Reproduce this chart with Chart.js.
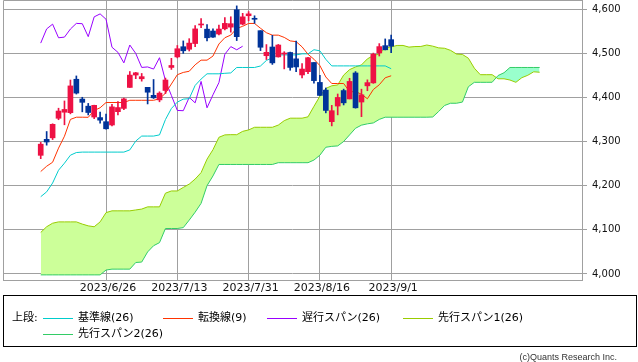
<!DOCTYPE html>
<html lang="ja">
<head>
<meta charset="utf-8">
<title>一目均衡表</title>
<script src="https://cdn.jsdelivr.net/npm/chart.js@4.4.1/dist/chart.umd.min.js"></script>
<style>
body {
    margin: 0;
    width: 638px;
    height: 362px;
    background: #fff;
    position: relative;
    overflow: hidden;
    font-family: "DejaVu Sans", "Noto Sans CJK JP", sans-serif;
}
#chartBox {
    position: absolute;
    left: 0;
    top: 0;
    width: 638px;
    height: 296px;
}
#legend {
    position: absolute;
    left: 3px;
    top: 295px;
    width: 632px;
    height: 50px;
    border: 1px solid #000;
    font-size: 11px;
    color: #000;
}
.lg-item {
    position: absolute;
    height: 14px;
    line-height: 14px;
    white-space: nowrap;
}
.lg-line {
    display: inline-block;
    width: 30px;
    height: 1px;
    vertical-align: middle;
    margin-right: 5px;
}
#copy {
    position: absolute;
    right: 21px;
    top: 351px;
    font-family: "Liberation Sans", sans-serif;
    font-size: 9px;
    line-height: 12px;
    color: #333;
}
</style>
</head>
<body>

<div id="chartBox"><canvas id="ichimokuChart"></canvas></div>
<div id="legend"></div>
<div id="copy">(c)Quants Research Inc.</div>

<script>

// trading days shown as candles
const dates = [
"2023/6/8","2023/6/9","2023/6/12","2023/6/13","2023/6/14","2023/6/15","2023/6/16","2023/6/20","2023/6/21","2023/6/22",
"2023/6/23","2023/6/26","2023/6/27","2023/6/28","2023/6/29","2023/6/30","2023/7/3","2023/7/5","2023/7/6","2023/7/7",
"2023/7/10","2023/7/11","2023/7/12","2023/7/13","2023/7/14","2023/7/17","2023/7/18","2023/7/19","2023/7/20","2023/7/21",
"2023/7/24","2023/7/25","2023/7/26","2023/7/27","2023/7/28","2023/7/31","2023/8/1","2023/8/2","2023/8/3","2023/8/4",
"2023/8/7","2023/8/8","2023/8/9","2023/8/10","2023/8/11","2023/8/14","2023/8/15","2023/8/16","2023/8/17","2023/8/18",
"2023/8/21","2023/8/22","2023/8/23","2023/8/24","2023/8/25","2023/8/28","2023/8/29","2023/8/30","2023/8/31","2023/9/1"
];

const openPrices = [
4268.69,4304.88,4308.32,4352.61,4366.29,4365.33,4440.95,4396.11,4380.01,4355.40,
4354.17,4344.84,4337.36,4367.48,4374.94,4422.44,4450.48,4442.04,4422.62,4404.54,
4394.23,4415.55,4467.69,4491.50,4514.61,4508.86,4521.78,4563.87,4554.38,4550.16,
4543.39,4555.19,4558.96,4598.26,4565.75,4584.82,4578.83,4550.93,4494.27,4513.96,
4491.58,4498.03,4501.57,4487.16,4450.69,4458.13,4478.87,4433.79,4416.32,4344.88,
4380.28,4415.33,4396.44,4455.16,4389.38,4426.03,4432.75,4500.34,4517.01,4530.60
];

const highPrices = [
4298.01,4322.62,4340.13,4375.37,4391.82,4439.20,4448.47,4400.15,4386.22,4382.25,
4366.55,4362.06,4384.42,4390.35,4398.39,4458.48,4456.46,4454.06,4422.62,4440.39,
4412.60,4443.64,4488.34,4517.38,4527.76,4532.85,4562.30,4578.43,4564.74,4555.00,
4563.41,4580.62,4582.47,4607.07,4590.16,4594.22,4584.62,4550.93,4519.49,4540.34,
4519.84,4503.31,4502.44,4527.37,4476.23,4490.33,4478.87,4449.95,4421.17,4381.82,
4407.55,4418.59,4443.18,4458.30,4418.46,4439.56,4500.14,4521.65,4532.26,4541.25
];

const lowPrices = [
4261.07,4291.70,4304.37,4349.31,4337.85,4362.60,4407.44,4367.19,4360.14,4351.82,
4341.34,4328.08,4335.00,4360.22,4371.97,4422.44,4442.29,4436.61,4385.05,4397.40,
4389.92,4408.46,4463.23,4489.36,4499.56,4504.90,4514.59,4557.48,4527.56,4535.79,
4541.29,4552.42,4547.58,4528.56,4564.01,4573.14,4567.53,4505.75,4485.54,4474.55,
4491.15,4464.39,4461.33,4457.92,4443.98,4453.44,4432.19,4403.55,4364.83,4335.31,
4360.30,4382.77,4396.44,4375.55,4356.29,4414.98,4431.68,4493.59,4507.39,4501.35
];

const closePrices = [
4293.93,4298.86,4338.93,4369.01,4372.59,4425.84,4409.59,4388.71,4365.69,4381.89,
4348.33,4328.82,4378.41,4376.86,4396.44,4450.38,4455.59,4446.82,4411.59,4398.95,
4409.53,4439.26,4472.16,4510.04,4505.42,4522.79,4554.98,4565.72,4534.87,4536.34,
4554.64,4567.46,4566.75,4537.41,4582.23,4588.96,4576.73,4513.39,4501.89,4478.03,
4518.44,4499.38,4467.71,4468.83,4464.05,4489.72,4437.86,4404.33,4370.36,4369.71,
4399.77,4387.55,4436.01,4376.31,4405.71,4433.31,4497.63,4514.87,4507.66,4515.77
];

// 基準線(26), one value per candle
const kijun = [
4175,4186,4206,4235,4251,4269,4275,4276,4276,4276,
4276,4276,4276,4276,4276,4281,4301,4312.3,4312.3,4312.3,
4315,4349.7,4374.7,4389.2,4395.9,4397,4427,4441.4,4453.3,4453.3,
4453.3,4454.4,4455.3,4467.6,4467.6,4467.6,4467.6,4471,4483.6,4489.5,
4496.1,4496.1,4496.1,4496.1,4498.5,4498.5,4507.8,4505.3,4486,4471.2,
4471.2,4471.2,4471.2,4471.2,4471.2,4471.2,4471.2,4471.2,4471.2,4464.8
];

// 転換線(9)
const tenkan = [
4232,4244,4253,4285,4312,4350,4355,4355,4354.8,4370.1,
4376.4,4388.3,4388.3,4388.3,4388.3,4393.3,4393.3,4393.3,4393.3,4393.3,
4396.7,4409.4,4430.2,4451.2,4456.4,4459,4473.7,4484.2,4484.2,4493.4,
4520.8,4535,4541,4556,4560.8,4567.3,4567.3,4556.4,4546.3,4540.8,
4540.8,4535.7,4527.8,4526.1,4514.3,4497.5,4486.3,4471.9,4446.1,4431.3,
4431.3,4431.3,4412.8,4412.8,4407.1,4396.8,4417.7,4428.5,4444.3,4448.8
];

// 遅行スパン(26), starts at the first candle
const chikou = [
4522.79,4554.98,4565.72,4534.87,4536.34,4554.64,4567.46,4566.75,4537.41,4582.23,
4588.96,4576.73,4513.39,4501.89,4478.03,4518.44,4499.38,4467.71,4468.83,4464.05,
4489.72,4437.86,4404.33,4370.36,4369.71,4399.77,4387.55,4436.01,4376.31,4405.71,
4433.31,4497.63,4514.87,4507.66,4515.77
];

// 先行スパン1(26), runs 25 slots past the last candle
const spanA = [
4094,4107,4115,4118,4118,4118,4118,4113,4109,4107,
4118,4139,4143,4143,4143,4143,4145,4147,4152,4152,
4152,4183,4188,4188,4196,4203.5,4215,4229.5,4260,4281.5,
4309.5,4315,4315.5,4315.4,4323,4326.2,4332.2,4332.2,4332.2,4332.2,
4337.2,4347.2,4352.8,4352.8,4352.8,4355.9,4379.6,4402.5,4420.2,4426.2,
4428,4450.4,4462.8,4468.8,4473.4,4487.1,4494.7,4498.2,4511.8,4514.2,
4517.5,4517.5,4513.7,4515,4515.2,4518.5,4515.9,4512,4511.1,4506.4,
4498,4497.1,4488.6,4466.1,4451.3,4451.3,4451.3,4442,4442,4439.2,
4434,4444.5,4449.9,4457.8,4456.8
];

// 先行スパン2(26)
const spanB = [
3998,3998,3998,3998,3998,3998,3998,3998,3998,3998,
3998,4009,4011,4011,4011,4011,4026,4027,4050,4064,
4071,4103,4103,4103,4105,4122,4140,4160,4200,4222,
4248,4248,4248,4248,4248,4248,4248,4248,4248,4248,
4252,4252,4252,4252,4252,4252,4258,4269,4287,4289,
4290,4300,4315,4330,4337,4340,4342,4350,4355,4355,
4355,4355,4355,4355,4355,4355,4355.5,4368,4381.6,4386.6,
4386.6,4389.3,4424,4434,4434,4434,4434.1,4449.4,4455.7,4467.6,
4467.6,4467.6,4467.6,4467.6,4467.6
];

const priceTicks = [4000, 4100, 4200, 4300, 4400, 4500, 4600];

const dateTicks = ["2023/6/26", "2023/7/13", "2023/7/31", "2023/8/16", "2023/9/1"];

const seriesNames = ["基準線(26)", "転換線(9)", "遅行スパン(26)", "先行スパン1(26)", "先行スパン2(26)"];


const UP = "#ee1144";
const DOWN = "#003399";
const COL_KIJUN = "#00cccc";
const COL_TENKAN = "#ff3300";
const COL_CHIKOU = "#9900ff";
const COL_SPAN1 = "#99cc00";
const COL_SPAN2 = "#33cc66";
const GRID = "#a0a0a0";
const FONT = "'DejaVu Sans', sans-serif";

function toPoints(values) {
    return values.map((v, i) => ({ x: i, y: v }));
}

const candleColors = dates.map((d, i) =>
    closePrices[i] >= openPrices[i] ? UP : DOWN
);

const bodies = dates.map((d, i) => ({ x: i, y: [openPrices[i], closePrices[i]] }));
const wicks = dates.map((d, i) => ({ x: i, y: [lowPrices[i], highPrices[i]] }));


// left and top edge of the plot frame
const framePlugin = {
    id: "frame",
    beforeDatasetsDraw(chart) {
        const ctx = chart.ctx;
        const a = chart.chartArea;
        ctx.save();
        ctx.strokeStyle = GRID;
        ctx.lineWidth = 1;
        ctx.beginPath();
        ctx.moveTo(a.left + 0.5, a.bottom);
        ctx.lineTo(a.left + 0.5, a.top + 0.5);
        ctx.lineTo(a.right, a.top + 0.5);
        ctx.stroke();
        ctx.restore();
    }
};


new Chart(
document.getElementById("ichimokuChart"),
{
type: "bar",

data: {
datasets: [

{
type: "bar",
label: "body",
data: bodies,
backgroundColor: candleColors,
barThickness: 5,
minBarLength: 1,
grouped: false,
order: 0
},

{
type: "bar",
label: "wick",
data: wicks,
backgroundColor: candleColors,
barThickness: 1,
grouped: false,
order: 1
},

{
type: "line",
label: seriesNames[1],
data: toPoints(tenkan),
borderColor: COL_TENKAN,
borderWidth: 1,
pointRadius: 0,
fill: false,
order: 2
},

{
type: "line",
label: seriesNames[0],
data: toPoints(kijun),
borderColor: COL_KIJUN,
borderWidth: 1,
pointRadius: 0,
fill: false,
order: 3
},

{
type: "line",
label: seriesNames[2],
data: toPoints(chikou),
borderColor: COL_CHIKOU,
borderWidth: 1,
pointRadius: 0,
fill: false,
order: 4
},

{
type: "line",
label: seriesNames[3],
data: toPoints(spanA),
borderColor: COL_SPAN1,
borderWidth: 1,
pointRadius: 0,
fill: {
target: "+1",
above: "#ccff99",
below: "#99ffcc"
},
order: 6
},

{
type: "line",
label: seriesNames[4],
data: toPoints(spanB),
borderColor: COL_SPAN2,
borderWidth: 1,
pointRadius: 0,
fill: false,
order: 5
}

]
},

options: {
responsive: true,
maintainAspectRatio: false,
animation: false,
events: [],
layout: {
padding: { left: 3, top: 0, right: 0, bottom: 0 }
},
plugins: {
legend: { display: false },
tooltip: { enabled: false }
},
scales: {

x: {
type: "linear",
min: -6.35,
max: 91.13,
offset: false,
grid: {
color: GRID,
drawTicks: false,
offset: false
},
border: { color: GRID },
afterBuildTicks: (scale) => {
scale.ticks = dateTicks.map(d => ({ value: dates.indexOf(d) }));
},
afterFit: (scale) => {
scale.height = 16;
scale.paddingLeft = 0;
scale.paddingRight = 0;
},
ticks: {
callback: (v) => dates[v],
autoSkip: false,
maxRotation: 0,
padding: 2,
labelOffset: 2,
color: "#111",
font: { family: FONT, size: 11 }
}
},

y: {
position: "right",
min: 3986.4,
max: 4620.4,
grid: {
color: GRID,
tickColor: GRID,
tickLength: 5
},
border: { color: GRID },
afterBuildTicks: (scale) => {
scale.ticks = priceTicks.map(v => ({ value: v }));
},
afterFit: (scale) => {
scale.width = 56;
scale.paddingTop = 0;
scale.paddingBottom = 0;
},
ticks: {
callback: (v) => v.toLocaleString("en-US"),
padding: 5,
color: "#111",
font: { family: FONT, size: 10 }
}
}

}
},

plugins: [framePlugin]

});


// legend box under the chart
const legendItems = [
{ name: seriesNames[0], color: COL_KIJUN, left: 39, top: 15 },
{ name: seriesNames[1], color: COL_TENKAN, left: 159, top: 15 },
{ name: seriesNames[2], color: COL_CHIKOU, left: 263, top: 15 },
{ name: seriesNames[3], color: COL_SPAN1, left: 399, top: 15 },
{ name: seriesNames[4], color: COL_SPAN2, left: 39, top: 31 }
];

const legend = document.getElementById("legend");

const head = document.createElement("div");
head.className = "lg-item";
head.style.left = "8px";
head.style.top = "15px";
head.textContent = "上段:";
legend.appendChild(head);

legendItems.forEach(item => {
    const el = document.createElement("div");
    el.className = "lg-item";
    el.style.left = item.left + "px";
    el.style.top = item.top + "px";

    const line = document.createElement("span");
    line.className = "lg-line";
    line.style.background = item.color;

    el.appendChild(line);
    el.appendChild(document.createTextNode(item.name));
    legend.appendChild(el);
});

</script>
</body>
</html>
